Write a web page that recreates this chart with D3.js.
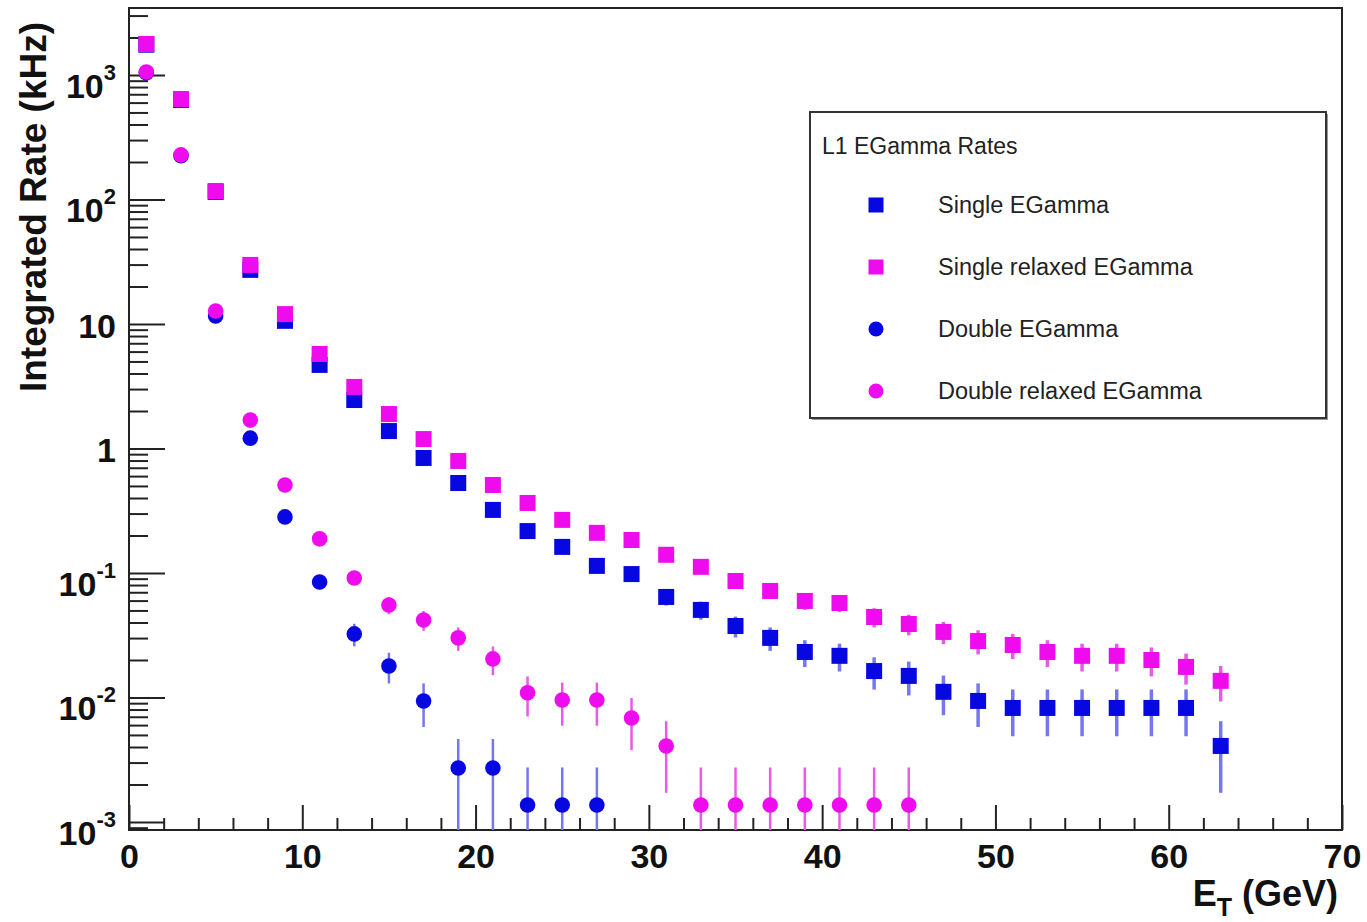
<!DOCTYPE html>
<html>
<head>
<meta charset="utf-8">
<script src="https://cdn.jsdelivr.net/npm/d3@7"></script>
<style>
  body { margin: 0; background: #fff; }
  svg { display: block; font-family: "Liberation Sans", Arial, Helvetica, sans-serif; }
  .tick text { font-weight: bold; font-size: 34px; fill: #111; }
</style>
</head>
<body>
<svg width="1367" height="922"></svg>
<script>

// bin centres (GeV), bins of 2 GeV
let et = [1, 3, 5, 7, 9, 11, 13, 15, 17, 19, 21, 23, 25, 27, 29, 31,
          33, 35, 37, 39, 41, 43, 45, 47, 49, 51, 53, 55, 57, 59, 61, 63]

// integrated rates in kHz, null = empty
let singleEG = [1750, 630, 115, 27.2, 10.6, 4.69, 2.45, 1.38, 0.839, 0.528, 0.321, 0.217, 0.162, 0.114, 0.098, 0.0642,
                0.0505, 0.0375, 0.0301, 0.0232, 0.0216, 0.0163, 0.0149, 0.0111, 0.00938, 0.00824, 0.00824, 0.00824, 0.00824, 0.00824, 0.00824, 0.00408]

let singleRelaxedEG = [1774, 641, 117, 29.8, 12.0, 5.74, 3.12, 1.89, 1.19, 0.794, 0.509, 0.365, 0.267, 0.210, 0.184, 0.140,
                       0.112, 0.0862, 0.0717, 0.0596, 0.0574, 0.0443, 0.0389, 0.0336, 0.0284, 0.0264, 0.0232, 0.0216, 0.0216, 0.0200, 0.0176, 0.0136]

let doubleEG = [1040, 225, 11.6, 1.21, 0.282, 0.0847, 0.0324, 0.0179, 0.00938, 0.00271, 0.00271, 0.00137, 0.00137, 0.00137, null, null,
                null, null, null, null, null, null, null, null, null, null, null, null, null, null, null, null]

let doubleRelaxedEG = [1057, 228, 12.7, 1.69, 0.509, 0.188, 0.0912, 0.0553, 0.0419, 0.0301, 0.0204, 0.0109, 0.00955, 0.00955, 0.00684, 0.00408,
                       0.00137, 0.00137, 0.00137, 0.00137, 0.00137, 0.00137, 0.00137, null, null, null, null, null, null, null, null, null]

// rate of a single event (kHz), errors are poisson
let unitRate = 0.00137

let xTicks = [0, 10, 20, 30, 40, 50, 60, 70]
let yTicks = [1e-3, 1e-2, 1e-1, 1, 10, 1e2, 1e3]
let yLabels = [['10', '-3'], ['10', '-2'], ['10', '-1'], ['1', ''], ['10', ''], ['10', '2'], ['10', '3']]

let series = [
  {name: 'Single EGamma', vals: singleEG, shape: 'square', col: '#0707e2', err: '#7676f0'},
  {name: 'Single relaxed EGamma', vals: singleRelaxedEG, shape: 'square', col: '#ee0cee', err: '#e85ae8'},
  {name: 'Double EGamma', vals: doubleEG, shape: 'circle', col: '#0707e2', err: '#7676f0'},
  {name: 'Double relaxed EGamma', vals: doubleRelaxedEG, shape: 'circle', col: '#ee0cee', err: '#e85ae8'}
]

/***** plot *****/

let frame = {l: 129, r: 1342, t: 8, b: 830}

let svg = d3.select('svg')

let x = d3.scaleLinear().domain([0, 70]).range([frame.l, frame.r])
let y = d3.scaleLog().domain([0.000862, 3451]).range([frame.b, frame.t])

let clamp = v => Math.max(v, y.domain()[0])

/* ticks */

let minorX = d3.range(0, 71, 2).filter(v => v % 10 != 0)
svg.append('g')
  .attr('transform', `translate(0,${frame.b})`)
  .call(d3.axisBottom(x).tickValues(minorX).tickSize(-12).tickFormat(''))
svg.append('g')
  .attr('transform', `translate(0,${frame.b})`)
  .call(d3.axisBottom(x).tickValues(xTicks).tickSize(-25).tickPadding(14).tickFormat(d3.format('d')))

let minorY = []
for (let e = -4; e <= 3; e++) {
  for (let m = 2; m <= 9; m++) {
    let v = m * Math.pow(10, e)
    if (v >= y.domain()[0] && v <= y.domain()[1]) minorY.push(v)
  }
}
svg.append('g')
  .attr('transform', `translate(${frame.l},0)`)
  .call(d3.axisLeft(y).tickValues(minorY).tickSize(-19).tickFormat(''))
svg.append('g')
  .attr('transform', `translate(${frame.l},0)`)
  .call(d3.axisLeft(y).tickValues(yTicks).tickSize(-36).tickFormat(''))

svg.selectAll('.domain').remove()
svg.selectAll('.tick line').attr('stroke', '#222').attr('stroke-width', 2)

// y labels: 10 with superscript
let ylab = svg.append('g').selectAll('text')
  .data(yTicks)
  .enter().append('text')
  .attr('x', 116)
  .attr('y', (d, i) => y(d) + (yLabels[i][1] ? 23 : 14))
  .attr('text-anchor', 'end')
  .attr('font-weight', 'bold')
  .attr('font-size', 34)
  .attr('fill', '#111')
ylab.append('tspan').text((d, i) => yLabels[i][0])
ylab.append('tspan')
  .attr('font-size', 22)
  .attr('dy', -18)
  .text((d, i) => yLabels[i][1])

/* frame */

svg.append('rect')
  .attr('x', frame.l).attr('y', frame.t)
  .attr('width', frame.r - frame.l).attr('height', frame.b - frame.t)
  .attr('fill', 'none').attr('stroke', '#222').attr('stroke-width', 2)

/* points */

let plot = svg.append('g')

series.forEach(s => {
  let pts = et.map((e, i) => ({e: e, v: s.vals[i]})).filter(p => p.v != null)
  let g = plot.append('g')

  g.selectAll('line')
    .data(pts)
    .enter().append('line')
    .attr('x1', d => x(d.e)).attr('x2', d => x(d.e))
    .attr('y1', d => y(d.v + Math.sqrt(d.v * unitRate)))
    .attr('y2', d => y(clamp(d.v - Math.sqrt(d.v * unitRate))))
    .attr('stroke', s.err)
    .attr('stroke-width', s.shape == 'square' ? 3.5 : 2.5)

  if (s.shape == 'square') {
    g.selectAll('rect')
      .data(pts)
      .enter().append('rect')
      .attr('x', d => x(d.e) - 8).attr('y', d => y(d.v) - 8)
      .attr('width', 16).attr('height', 16)
      .attr('fill', s.col)
  } else {
    g.selectAll('circle')
      .data(pts)
      .enter().append('circle')
      .attr('cx', d => x(d.e)).attr('cy', d => y(d.v))
      .attr('r', 7.8)
      .attr('fill', s.col)
  }
})

/* titles */

svg.append('text')
  .attr('transform', 'translate(46,207) rotate(-90)')
  .attr('text-anchor', 'middle')
  .attr('font-weight', 'bold')
  .attr('font-size', 37)
  .attr('fill', '#111')
  .text('Integrated Rate (kHz)')

let xt = svg.append('text')
  .attr('x', frame.r - 4).attr('y', 906)
  .attr('text-anchor', 'end')
  .attr('font-weight', 'bold')
  .attr('font-size', 36)
  .attr('fill', '#111')
xt.append('tspan').text('E')
xt.append('tspan').attr('font-size', 25).attr('dy', 10).text('T')
xt.append('tspan').attr('dy', -10).text(' (GeV)')

/* legend */

let leg = svg.append('g')
leg.append('rect')
  .attr('x', 812).attr('y', 114).attr('width', 516).attr('height', 306)
  .attr('fill', '#999')
leg.append('rect')
  .attr('x', 810).attr('y', 112).attr('width', 516).attr('height', 306)
  .attr('fill', '#fff').attr('stroke', '#333').attr('stroke-width', 2)

leg.append('text')
  .attr('x', 822).attr('y', 154)
  .attr('font-size', 23)
  .attr('fill', '#222')
  .text('L1 EGamma Rates')

let rows = leg.selectAll('g.entry')
  .data(series)
  .enter().append('g')
  .attr('class', 'entry')
  .attr('transform', (d, i) => `translate(876,${205 + i * 62})`)

rows.filter(d => d.shape == 'square').append('rect')
  .attr('x', -7.5).attr('y', -7.5).attr('width', 15).attr('height', 15)
  .attr('fill', d => d.col)
rows.filter(d => d.shape == 'circle').append('circle')
  .attr('r', 7.5)
  .attr('fill', d => d.col)
rows.append('text')
  .attr('x', 62).attr('y', 8)
  .attr('font-size', 23.5)
  .attr('fill', '#222')
  .text(d => d.name)

</script>
</body>
</html>
